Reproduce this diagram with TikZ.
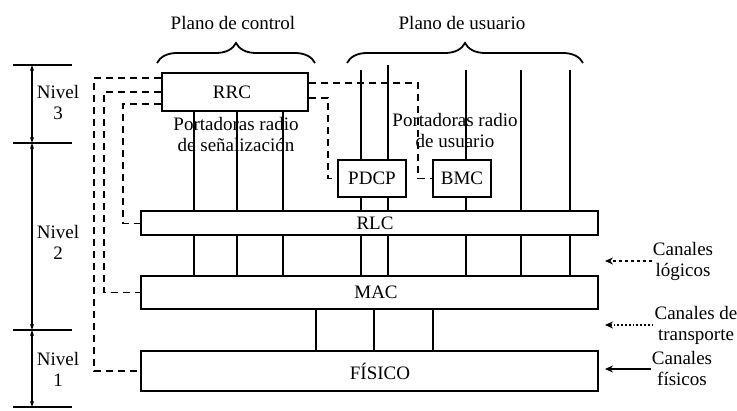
\documentclass[tikz,border=0pt]{standalone}
\usepackage{fontspec}
\setmainfont{Liberation Serif}
\usetikzlibrary{arrows.meta,decorations.pathreplacing}
\begin{document}
\begin{tikzpicture}[x=1pt,y=-1pt,
  font=\fontsize{19}{21}\selectfont,
  box/.style={draw,line width=2pt,fill=white,inner sep=0pt},
  thk/.style={line width=2.8pt},
  thn/.style={line width=1.8pt},
  ctl/.style={line width=1.8pt,dash pattern=on 7pt off 5pt},
  lbl/.style={align=center,inner sep=1pt},
  tip/.style={-{Stealth[length=8pt,width=7pt]}},
  dim/.style={line width=1.4pt,{Stealth[length=6pt,width=4pt]}-{Stealth[length=6pt,width=4pt]}},
  brc/.style={line width=1.8pt,decorate,decoration={brace,amplitude=20pt}}
  ]
\useasboundingbox (0,0) rectangle (737,411);

% boxes
\node[box,minimum width=146pt,minimum height=38pt] (rrc) at (235,92) {};
\node (rrct) at (232,92) {RRC};
\node[box,minimum width=68pt,minimum height=37pt] (pdcp) at (372,178.5) {PDCP};
\node[box,minimum width=58pt,minimum height=37pt] (bmc) at (462,178.5) {BMC};
\node[box,minimum width=457pt,minimum height=24pt] (rlc) at (369,223.5) {};
\node (rlct) at (375,223.5) {RLC};
\node[box,minimum width=457pt,minimum height=33pt] (mac) at (369,292.5) {};
\node (mact) at (376,292.5) {MAC};
\node[box,minimum width=457pt,minimum height=40pt] (fis) at (369,371) {};
\node (fist) at (380,371) {FÍSICO};

% vertical line positions
\coordinate (ca) at (194,0);
\coordinate (cb) at (237,0);
\coordinate (cc) at (283,0);
\coordinate (ua) at (361,70);
\coordinate (ub) at (388,65);
\coordinate (uc) at (466,70);
\coordinate (ud) at (521,70);
\coordinate (ue) at (570,70);
\coordinate (ma) at (316,0);
\coordinate (mb) at (374,0);
\coordinate (mc) at (433,0);

% control plane bearers
\draw[thn] (rrc.south -| ca) -- (rlc.north -| ca);
\draw[thk] (rrc.south -| cb) -- (rlc.north -| cb);
\draw[thn] (rrc.south -| cc) -- (rlc.north -| cc);
\draw[thn] (rlc.south -| ca) -- (mac.north -| ca);
\draw[thk] (rlc.south -| cb) -- (mac.north -| cb);
\draw[thn] (rlc.south -| cc) -- (mac.north -| cc);

% user plane bearers
\draw[thn] (ua) -- (pdcp.north -| ua);
\draw[thk] (ub) -- (pdcp.north -| ub);
\draw[thn] (uc) -- (bmc.north -| uc);
\draw[thk] (ud) -- (rlc.north -| ud);
\draw[thn] (ue) -- (rlc.north -| ue);
\draw[thk] (pdcp.south -| ua) -- (rlc.north -| ua);
\draw[thk] (pdcp.south -| ub) -- (rlc.north -| ub);
\draw[thk] (bmc.south -| uc) -- (rlc.north -| uc);
\draw[thk] (rlc.south -| ua) -- (mac.north -| ua);
\draw[thk] (rlc.south -| ub) -- (mac.north -| ub);
\draw[thk] (rlc.south -| uc) -- (mac.north -| uc);
\draw[thk] (rlc.south -| ud) -- (mac.north -| ud);
\draw[thn] (rlc.south -| ue) -- (mac.north -| ue);

% transport channels
\draw[thk] (mac.south -| ma) -- (fis.north -| ma);
\draw[thk] (mac.south -| mb) -- (fis.north -| mb);
\draw[thk] (mac.south -| mc) -- (fis.north -| mc);

% control (dashed) lines from RRC
\coordinate (L1) at (94,0);
\coordinate (L2) at (104,0);
\coordinate (L3) at (123,0);
\coordinate (R1) at (418,0);
\coordinate (R2) at (328,0);
\draw[ctl] ([yshift=14pt]rrc.west) -| (fis.west -| L1) -- (fis.west);
\draw[ctl] (rrc.west) -| (mac.west -| L2) -- (mac.west);
\draw[ctl] ([yshift=-12pt]rrc.west) -| (rlc.west -| L3) -- (rlc.west);
\draw[ctl] ([yshift=9pt]rrc.east) -| (bmc.west -| R1) -- (bmc.west);
\draw[ctl] ([yshift=-6pt]rrc.east) -| (pdcp.west -| R2) -- (pdcp.west);

% braces and plane labels
\draw[brc] (157,63) -- (315,63);
\draw[brc] (347,63) -- (583,63);
\node[lbl] (pc) at (233,23) {Plano de control};
\node[lbl] (pu) at (462,23) {Plano de usuario};

% bearer labels
\node[lbl] (prs) at (236,135) {Portadoras radio\\de señalización};
\node[lbl] (pru) at (455,131) {Portadoras radio\\de usuario};

% levels
\coordinate (d0) at (32,65);
\coordinate (d1) at (32,143);
\coordinate (d2) at (32,330);
\coordinate (d3) at (32,407);
\draw[dim] (d0) -- (d1);
\draw[dim] (d1) -- (d2);
\draw[dim] (d2) -- (d3);
\draw[thn] ([xshift=-19pt]d0) -- ([xshift=40pt]d0);
\draw[thn] ([xshift=-19pt]d1) -- ([xshift=40pt]d1);
\draw[thn] ([xshift=-19pt]d2) -- ([xshift=40pt]d2);
\draw[thn] ([xshift=-19pt]d3) -- ([xshift=40pt]d3);
\node[lbl] (n3) at (58,103) {Nivel\\3};
\node[lbl] (n2) at (58,242) {Nivel\\2};
\node[lbl] (n1) at (58,369) {Nivel\\1};

% channels
\coordinate (al) at (605,0);
\node[lbl] (cl) at (683,261) {Canales\\lógicos};
\node[lbl] (ct) at (696,325) {Canales de\\transporte};
\node[lbl] (cf) at (682,369) {Canales\\físicos};
\draw[thn,tip,dashed] (cl.west) -- (cl.west -| al);
\draw[thn,tip,dotted] (ct.west) -- (ct.west -| al);
\draw[thn,tip] (cf.west) -- (cf.west -| al);
\end{tikzpicture}
\end{document}
